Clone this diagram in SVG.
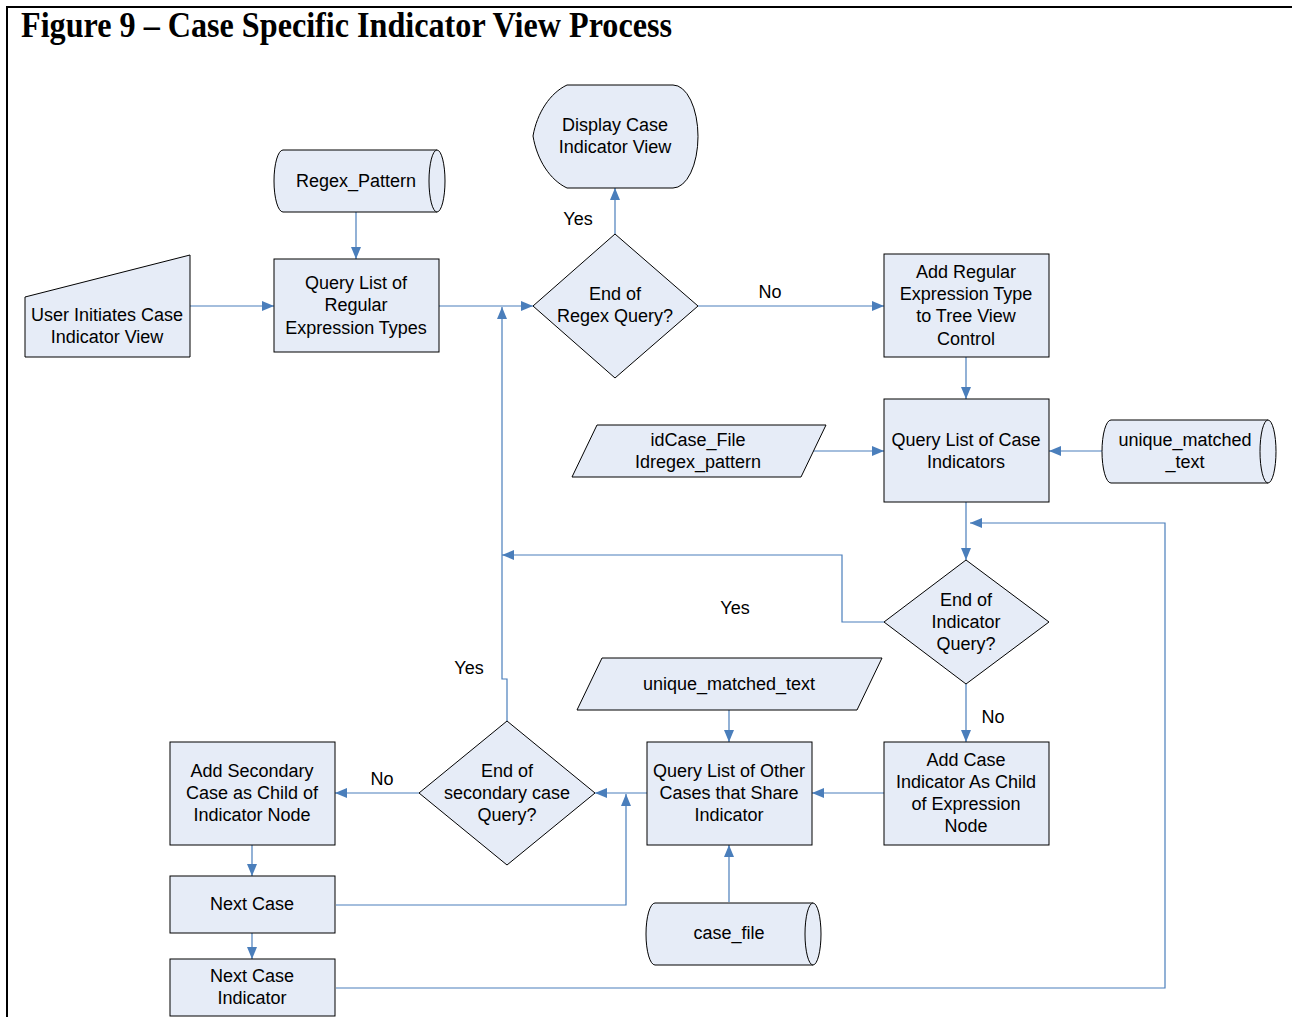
<svg xmlns="http://www.w3.org/2000/svg" width="1292" height="1017" viewBox="0 0 1292 1017">
<style>
.s{fill:#E6ECF7;stroke:#000;stroke-width:1}
.t{font-family:"Liberation Sans",Arial,sans-serif;font-size:18px;fill:#000;text-anchor:middle}
.c{fill:none;stroke:#4A7EBB;stroke-width:1.2}
.a{marker-end:url(#ah)}
</style>
<defs>
<marker id="ah" markerUnits="userSpaceOnUse" markerWidth="12" markerHeight="10" refX="12" refY="5" orient="auto">
<path d="M0,0 L12,5 L0,10 z" fill="#4A7EBB"/>
</marker>
</defs>
<rect width="1292" height="1017" fill="#fff"/>
<g id="frame">
<line x1="6" y1="7" x2="1292" y2="7" stroke="#000" stroke-width="2"/>
<line x1="7" y1="6" x2="7" y2="1017" stroke="#000" stroke-width="2"/>
<text transform="translate(21,37) scale(1,1.1)" font-family="'Liberation Serif','Times New Roman',serif" font-weight="bold" font-size="32" textLength="651" lengthAdjust="spacingAndGlyphs">Figure 9 – Case Specific Indicator View Process</text>
</g>
<g id="connectors">
<line class="c a" x1="190" y1="306" x2="274" y2="306"/>
<line class="c a" x1="356" y1="212" x2="356" y2="259"/>
<line class="c a" x1="439" y1="306" x2="533" y2="306"/>
<line class="c a" x1="615" y1="234" x2="615" y2="188"/>
<line class="c a" x1="698" y1="306" x2="884" y2="306"/>
<line class="c a" x1="966" y1="357" x2="966" y2="399"/>
<line class="c a" x1="812" y1="451" x2="884" y2="451"/>
<line class="c a" x1="1103" y1="451" x2="1049" y2="451"/>
<line class="c a" x1="966" y1="502" x2="966" y2="560"/>
<polyline class="c a" points="884,622 842,622 842,555 502,555"/>
<line class="c a" x1="966" y1="684" x2="966" y2="742"/>
<line class="c a" x1="884" y1="793" x2="812" y2="793"/>
<line class="c a" x1="729" y1="710" x2="729" y2="742"/>
<line class="c a" x1="729" y1="902" x2="729" y2="845"/>
<line class="c a" x1="647" y1="793" x2="595" y2="793"/>
<polyline class="c a" points="507,721 507,679 502,679 502,307"/>
<line class="c a" x1="419" y1="793" x2="335" y2="793"/>
<line class="c a" x1="252" y1="845" x2="252" y2="876"/>
<line class="c a" x1="252" y1="933" x2="252" y2="959"/>
<polyline class="c a" points="336,905 626,905 626,794"/>
<polyline class="c a" points="336,988 1165,988 1165,523 970,523"/>
<text class="t" x="578" y="225">Yes</text>
<text class="t" x="770" y="298">No</text>
<text class="t" x="735" y="614">Yes</text>
<text class="t" x="993" y="723">No</text>
<text class="t" x="469" y="674">Yes</text>
<text class="t" x="382" y="785">No</text>
</g>
<g id="user-initiates">
<polygon class="s" points="25,297 190,255 190,357 25,357"/>
<text class="t" x="107" y="321">User Initiates Case</text>
<text class="t" x="107" y="343">Indicator View</text>
</g>
<g id="regex-pattern">
<path class="s" d="M283,150 H437 A8,31 0 0 1 437,212 H283 A9,31 0 0 1 283,150 Z"/>
<path class="s" d="M437,212 A8,31 0 0 1 437,150" fill="none"/>
<text class="t" x="356" y="187">Regex_Pattern</text>
</g>
<g id="query-regex-types">
<rect class="s" x="274" y="259" width="165" height="93"/>
<text class="t" x="356" y="289">Query List of</text>
<text class="t" x="356" y="311">Regular</text>
<text class="t" x="356" y="334">Expression Types</text>
</g>
<g id="display-view">
<path class="s" d="M533,136 C537,113 550,93 567,85 H673 A25,51.5 0 0 1 673,188 H567 C550,180 537,160 533,136 Z"/>
<text class="t" x="615" y="131">Display Case</text>
<text class="t" x="615" y="153">Indicator View</text>
</g>
<g id="end-regex-query">
<polygon class="s" points="615,234 698,306 615,378 533,306"/>
<text class="t" x="615" y="300">End of</text>
<text class="t" x="615" y="322">Regex Query?</text>
</g>
<g id="add-regex-type">
<rect class="s" x="884" y="254" width="165" height="103"/>
<text class="t" x="966" y="278">Add Regular</text>
<text class="t" x="966" y="300">Expression Type</text>
<text class="t" x="966" y="322">to Tree View</text>
<text class="t" x="966" y="345">Control</text>
</g>
<g id="query-case-indicators">
<rect class="s" x="884" y="399" width="165" height="103"/>
<text class="t" x="966" y="446">Query List of Case</text>
<text class="t" x="966" y="468">Indicators</text>
</g>
<g id="idcase-input">
<polygon class="s" points="597,425 826,425 801,477 572,477"/>
<text class="t" x="698" y="446">idCase_File</text>
<text class="t" x="698" y="468">Idregex_pattern</text>
</g>
<g id="unique-matched-store">
<path class="s" d="M1111,420 H1268 A8,31.5 0 0 1 1268,483 H1111 A9,31.5 0 0 1 1111,420 Z"/>
<path class="s" d="M1268,483 A8,31.5 0 0 1 1268,420" fill="none"/>
<text class="t" x="1185" y="446">unique_matched</text>
<text class="t" x="1185" y="468">_text</text>
</g>
<g id="end-indicator-query">
<polygon class="s" points="966,560 1049,622 966,684 884,622"/>
<text class="t" x="966" y="606">End of</text>
<text class="t" x="966" y="628">Indicator</text>
<text class="t" x="966" y="650">Query?</text>
</g>
<g id="unique-matched-input">
<polygon class="s" points="602,658 882,658 857,710 577,710"/>
<text class="t" x="729" y="690">unique_matched_text</text>
</g>
<g id="query-other-cases">
<rect class="s" x="647" y="742" width="165" height="103"/>
<text class="t" x="729" y="777">Query List of Other</text>
<text class="t" x="729" y="799">Cases that Share</text>
<text class="t" x="729" y="821">Indicator</text>
</g>
<g id="add-case-indicator">
<rect class="s" x="884" y="742" width="165" height="103"/>
<text class="t" x="966" y="766">Add Case</text>
<text class="t" x="966" y="788">Indicator As Child</text>
<text class="t" x="966" y="810">of Expression</text>
<text class="t" x="966" y="832">Node</text>
</g>
<g id="end-secondary-query">
<polygon class="s" points="507,721 595,793 507,865 419,793"/>
<text class="t" x="507" y="777">End of</text>
<text class="t" x="507" y="799">secondary case</text>
<text class="t" x="507" y="821">Query?</text>
</g>
<g id="add-secondary-case">
<rect class="s" x="170" y="742" width="165" height="103"/>
<text class="t" x="252" y="777">Add Secondary</text>
<text class="t" x="252" y="799">Case as Child of</text>
<text class="t" x="252" y="821">Indicator Node</text>
</g>
<g id="next-case">
<rect class="s" x="170" y="876" width="165" height="57"/>
<text class="t" x="252" y="910">Next Case</text>
</g>
<g id="next-case-indicator">
<rect class="s" x="170" y="959" width="165" height="57"/>
<text class="t" x="252" y="982">Next Case</text>
<text class="t" x="252" y="1004">Indicator</text>
</g>
<g id="case-file">
<path class="s" d="M655,903 H813 A8,31 0 0 1 813,965 H655 A9,31 0 0 1 655,903 Z"/>
<path class="s" d="M813,965 A8,31 0 0 1 813,903" fill="none"/>
<text class="t" x="729" y="939">case_file</text>
</g>
</svg>
